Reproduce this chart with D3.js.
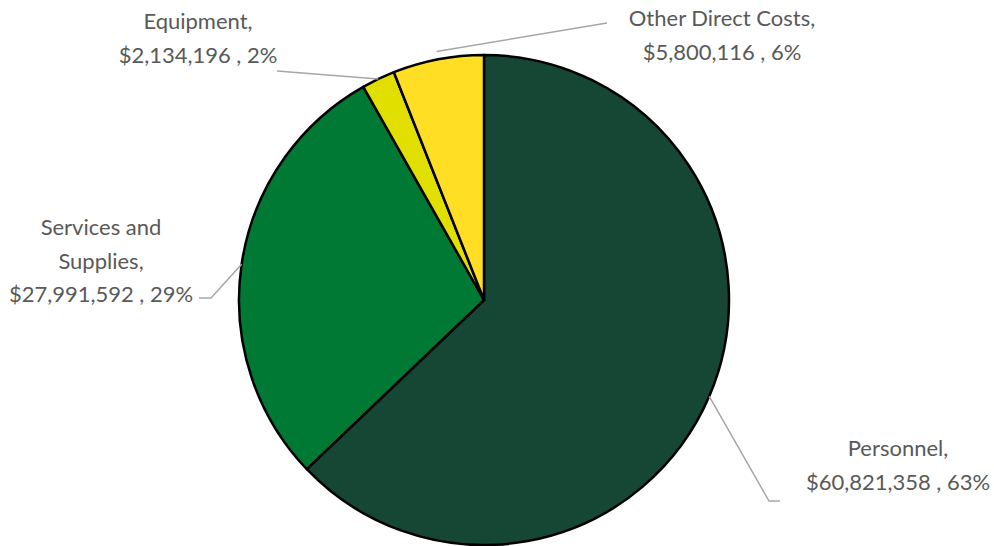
<!DOCTYPE html>
<html>
<head>
<meta charset="utf-8">
<script src="https://cdn.jsdelivr.net/npm/d3@7"></script>
<style>
  html, body { margin: 0; padding: 0; background: #fff; }
  svg text { font-family: Lato, "Open Sans", sans-serif; fill: #595959; }
</style>
</head>
<body>
<svg id="chart" width="994" height="546"></svg>
<script>
const categories = ["Personnel", "Services and Supplies", "Equipment", "Other Direct Costs"];
const values = [60821358, 27991592, 2134196, 5800116];
const colors = ["#154734", "#007934", "#E1DF00", "#FFDE23"];
// label lines (text as shown in the chart)
const labelLines = [
  ["Personnel,", "$60,821,358 , 63%"],
  ["Services and", "Supplies,", "$27,991,592 , 29%"],
  ["Equipment,", "$2,134,196 , 2%"],
  ["Other Direct Costs,", "$5,800,116 , 6%"]
];

const svg = d3.select("#chart");
const cx = 484, cy = 300, r = 245;
const g = svg.append("g").attr("transform", `translate(${cx},${cy})`);

const pie = d3.pie().sort(null).value(d => d)(values);
const arc = d3.arc().innerRadius(0).outerRadius(r);

g.selectAll("path.slice").data(pie).join("path")
  .attr("class", "slice")
  .attr("d", arc)
  .attr("fill", (d, i) => colors[i])
  .attr("stroke", "#000")
  .attr("stroke-width", 2.5)
  .attr("stroke-linejoin", "round");

// label layout (positions relative to the page)
const layout = [
  { x: 898, y: 456, anchor: "middle", elbow: [[769, 501], [780, 501]], rOff: 0 },
  { x: 101, y: 235, anchor: "middle", elbow: [[211, 298], [199, 298]], rOff: 0 },
  { x: 198, y: 29, anchor: "middle", elbow: [[277, 71]], rOff: 0 },
  { x: 722, y: 26, anchor: "middle", elbow: [[607, 23]], rOff: 8 }
];
const lineH = 33.5;

pie.forEach((d, i) => {
  const a = (d.startAngle + d.endAngle) / 2;
  const rr = r + layout[i].rOff;
  const p0 = [cx + rr * Math.sin(a), cy - rr * Math.cos(a)];
  const pts = [p0].concat(layout[i].elbow);
  svg.append("path")
    .attr("d", d3.line()(pts))
    .attr("fill", "none")
    .attr("stroke", "#A6A6A6")
    .attr("stroke-width", 1.5);
  const t = svg.append("text")
    .attr("text-anchor", layout[i].anchor)
    .attr("font-size", 22);
  labelLines[i].forEach((s, j) => {
    t.append("tspan").attr("x", layout[i].x).attr("y", layout[i].y + j * lineH).text(s);
  });
});
</script>
</body>
</html>
